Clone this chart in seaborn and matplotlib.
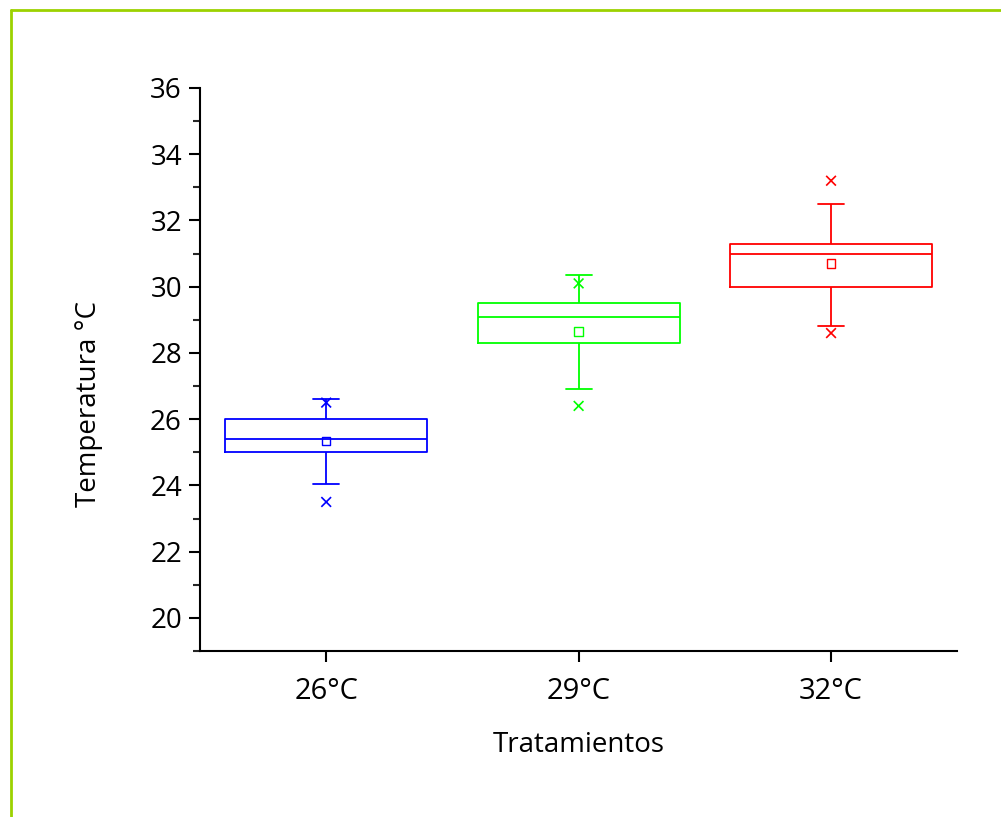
import matplotlib
matplotlib.use("Agg")
import matplotlib.pyplot as plt
from matplotlib.lines import Line2D
from matplotlib.ticker import MultipleLocator
import numpy as np
import seaborn as sns
import pandas as pd

# ---- data ----
categories = ["26°C", "29°C", "32°C"]
whisker_low = [24.05, 26.9, 28.8]
q1 = [25.0, 28.3, 30.0]
median = [25.4, 29.1, 31.0]
q3 = [26.0, 29.5, 31.3]
whisker_high = [26.6, 30.35, 32.5]
means = [25.35, 28.65, 30.7]
p_low = [23.5, 26.4, 28.6]
p_high = [26.5, 30.1, 33.2]
colors = ["#0000FF", "#00FF00", "#FF0000"]

# five-number summaries as long data
rows = []
for i, c in enumerate(categories):
    for v in (whisker_low[i], q1[i], median[i], q3[i], whisker_high[i]):
        rows.append({"Tratamiento": c, "Temp": v})
box_df = pd.DataFrame(rows)
mean_df = pd.DataFrame({"Tratamiento": categories, "Temp": means})
ext_df = pd.DataFrame({"Tratamiento": categories * 2, "Temp": p_low + p_high})
palette = dict(zip(categories, colors))

sns.set_theme(style="ticks")
plt.rcParams["font.family"] = ["Open Sans", "DejaVu Sans"]

fig = plt.figure(figsize=(10.01, 8.17), dpi=100)
ax = fig.add_axes([0.1998, 0.2032, 0.7565, 0.6891])

sns.boxplot(data=box_df, x="Tratamiento", y="Temp", hue="Tratamiento",
            palette=palette, order=categories, hue_order=categories,
            whis=(0, 100), width=0.8, fill=False, linewidth=1.3,
            legend=False, ax=ax)

# narrow whisker caps like the reference
cap_vals = set(round(v, 3) for v in whisker_low + whisker_high)
for ln in ax.lines:
    xd = np.asarray(ln.get_xdata(), dtype=float)
    yd = np.asarray(ln.get_ydata(), dtype=float)
    if len(yd) == 2 and yd[0] == yd[1] and round(float(yd[0]), 3) in cap_vals \
            and abs(xd[1] - xd[0]) < 0.6:
        cx = xd.mean()
        ln.set_xdata([cx - 0.052, cx + 0.052])

sns.stripplot(data=mean_df, x="Tratamiento", y="Temp", hue="Tratamiento",
              palette=palette, order=categories, hue_order=categories,
              jitter=False, marker="s", size=6, linewidth=1.0,
              legend=False, ax=ax)
sns.stripplot(data=ext_df, x="Tratamiento", y="Temp", hue="Tratamiento",
              palette=palette, order=categories, hue_order=categories,
              jitter=False, marker="x", size=7, linewidth=1.2,
              legend=False, ax=ax)

# hollow mean squares, coloured x markers
mean_set = set(round(m, 3) for m in means)
for coll in ax.collections:
    off = coll.get_offsets()
    if off.shape[0] == 0:
        continue
    fc = coll.get_facecolors()
    vals = set(round(float(v), 3) for v in off[:, 1])
    coll.set_edgecolors(fc)
    if vals & mean_set:
        coll.set_facecolors("none")

ax.set_xlim(-0.5, 2.5)
ax.set_yticks(range(20, 37, 2))
ax.yaxis.set_minor_locator(MultipleLocator(1))
ax.set_ylim(19, 36)

for s in ("top", "right"):
    ax.spines[s].set_visible(False)
for s in ("left", "bottom"):
    ax.spines[s].set_linewidth(1.5)
    ax.spines[s].set_color("black")

ax.tick_params(axis="y", which="major", length=8, width=1.5, labelsize=20,
               pad=5, direction="out", colors="black")
ax.tick_params(axis="y", which="minor", length=5, width=1.5, direction="out")
ax.tick_params(axis="x", which="major", length=8, width=1.5, labelsize=21,
               pad=11, direction="out", colors="black")

ax.set_xlabel("Tratamientos", fontsize=20, color="black")
ax.set_ylabel("Temperatura °C", fontsize=20, color="black")
ax.xaxis.set_label_coords(0.5, -0.142)
ax.yaxis.set_label_coords(-0.128, 0.439)

# green frame (top and left edges)
border = "#9CD200"
fig.add_artist(Line2D([0.011, 1.0], [1 - 10 / 817, 1 - 10 / 817],
                      transform=fig.transFigure, color=border, lw=2))
fig.add_artist(Line2D([0.011, 0.011], [0.0, 1 - 10 / 817],
                      transform=fig.transFigure, color=border, lw=2))

fig.savefig("out.png", dpi=100, facecolor="white")
